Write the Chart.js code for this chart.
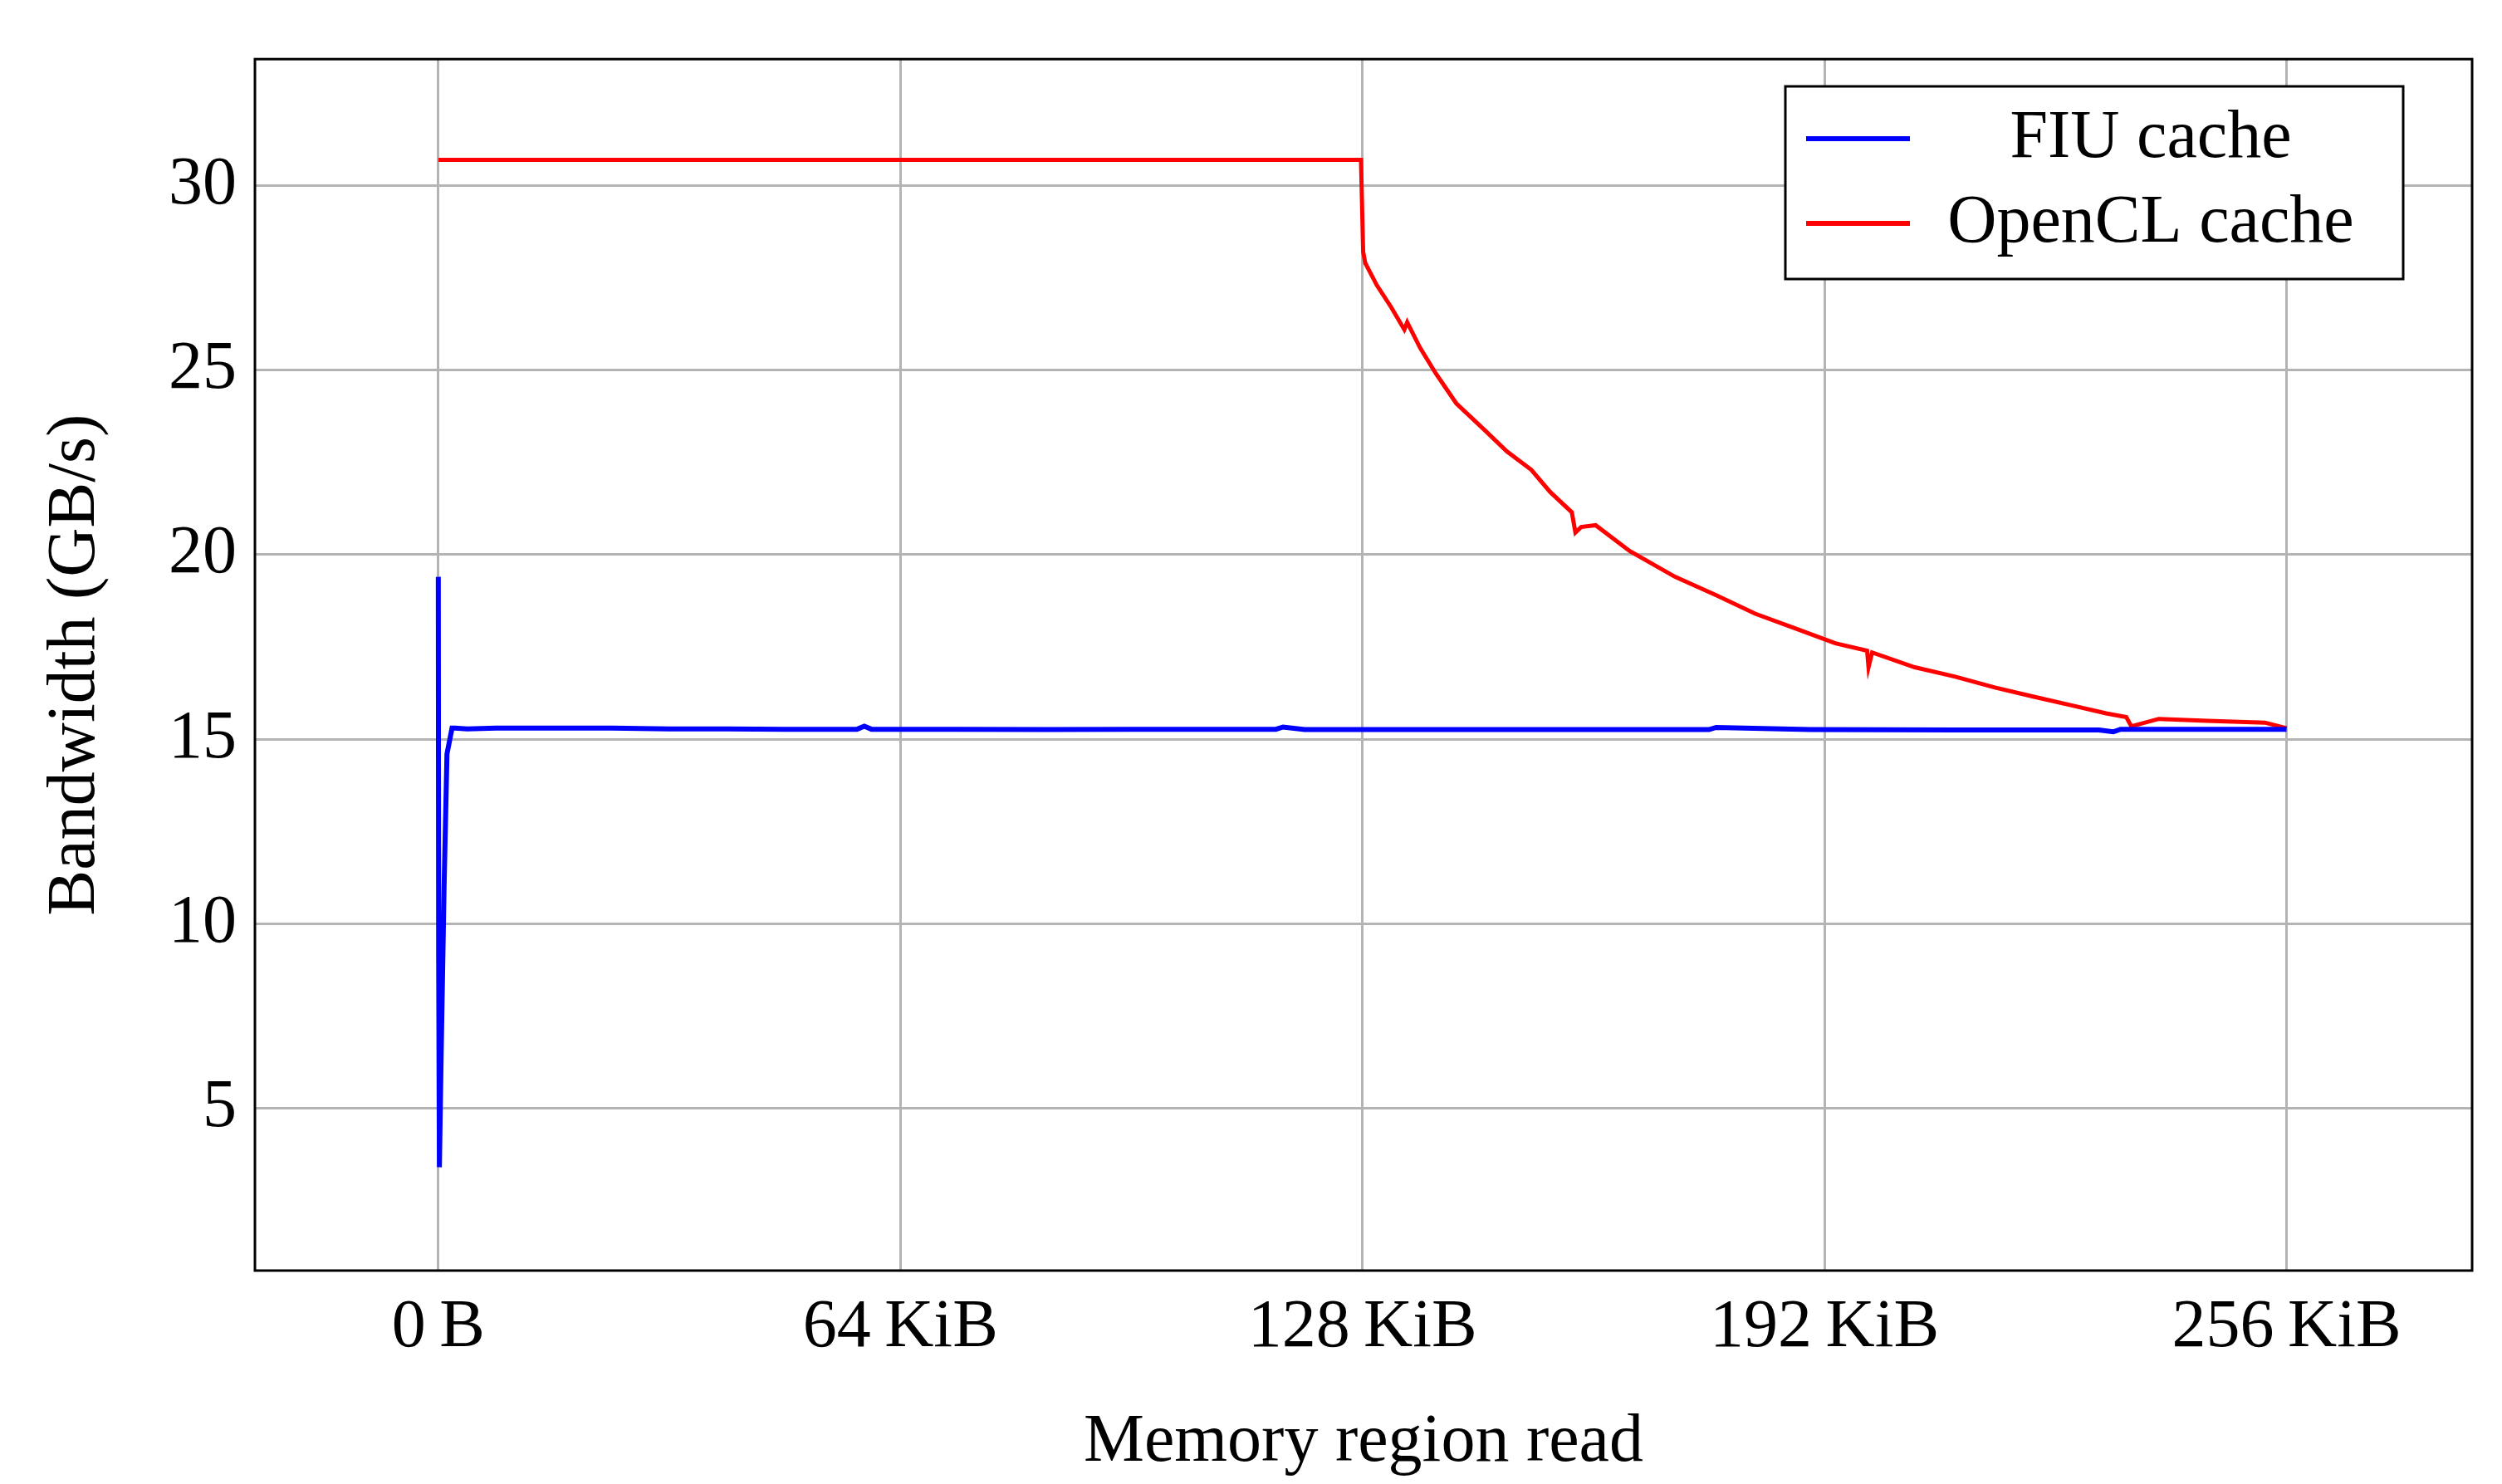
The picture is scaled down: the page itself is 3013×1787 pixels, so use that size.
<!DOCTYPE html>
<html><head><meta charset="utf-8">
<script src="https://cdn.jsdelivr.net/npm/chart.js@4"></script>
<style>html,body{margin:0;padding:0;background:#fff}</style>
</head><body>
<canvas id="c" width="3013" height="1787"></canvas>
<script>
const seriesNames = ["FIU cache", "OpenCL cache"];
const xTickValues = [0, 64, 128, 192, 256];
const xTickLabels = ["0\u2009B", "64\u2009KiB", "128\u2009KiB", "192\u2009KiB", "256\u2009KiB"];
const yTickValues = [5, 10, 15, 20, 25, 30];
const fiuX = [0, 0.05, 0.15, 0.4, 0.8, 1.2, 1.6, 1.9, 2.3, 4, 8, 16, 24, 32, 40, 48, 58, 59, 60, 72, 84, 96, 108, 116, 117, 120, 140, 160, 176, 177, 190, 210, 230, 232, 233, 236, 245, 256];
const fiuY = [19.4, 9.0, 3.4, 6.5, 11.0, 14.6, 15.0, 15.3, 15.3, 15.28, 15.3, 15.3, 15.3, 15.28, 15.28, 15.27, 15.27, 15.35, 15.27, 15.27, 15.26, 15.27, 15.27, 15.27, 15.33, 15.26, 15.26, 15.26, 15.26, 15.32, 15.26, 15.25, 15.25, 15.2, 15.27, 15.27, 15.27, 15.27];
const oclX = [0, 32, 64, 96, 127.8, 128.1, 128.4, 130, 132, 133.8, 134.2, 136, 138.2, 141, 144.8, 148, 151.4, 154, 157, 157.5, 158.3, 160.3, 165, 171.3, 177, 182.4, 188, 193.5, 197.9, 198.1, 198.6, 204.5, 210, 215.6, 221, 226.6, 231, 233.8, 234.5, 238.3, 245, 253, 256];
const oclY = [30.7, 30.7, 30.7, 30.7, 30.7, 28.2, 27.9, 27.3, 26.7, 26.1, 26.3, 25.6, 24.9, 24.1, 23.4, 22.8, 22.3, 21.7, 21.15, 20.6, 20.75, 20.8, 20.1, 19.4, 18.9, 18.4, 18.0, 17.6, 17.4, 16.95, 17.35, 16.95, 16.7, 16.4, 16.15, 15.9, 15.7, 15.6, 15.35, 15.55, 15.5, 15.45, 15.3];

const FONT = "'Liberation Serif', 'DejaVu Serif', serif";
const toPts = (xs, ys) => xs.map((x, i) => ({x: x, y: ys[i]}));

const frame = {
  id: 'frame',
  afterDatasetsDraw(chart) {
    const ctx = chart.ctx, a = chart.chartArea;
    ctx.save();
    ctx.strokeStyle = '#000'; ctx.lineWidth = 3;
    ctx.strokeRect(a.left, a.top, a.right - a.left, a.bottom - a.top);
    const bx = 2150, by = 104, bw = 744, bh = 232;
    ctx.fillStyle = '#fff'; ctx.fillRect(bx, by, bw, bh);
    ctx.strokeRect(bx, by, bw, bh);
    ctx.font = '82px ' + FONT; ctx.textBaseline = 'middle';
    chart.data.datasets.forEach((ds, i) => {
      const yy = by + 63 + i * 102;
      ctx.strokeStyle = ds.borderColor; ctx.lineWidth = 6;
      ctx.beginPath(); ctx.moveTo(bx + 25, yy); ctx.lineTo(bx + 150, yy); ctx.stroke();
      ctx.fillStyle = '#000';
      ctx.textAlign = 'center';
      ctx.fillText(ds.label, bx + 440, yy);
    });
    ctx.restore();
  }
};

new Chart(document.getElementById('c'), {
  type: 'line',
  data: {
    datasets: [
      {label: seriesNames[0], data: toPts(fiuX, fiuY), borderColor: '#0000ff', borderWidth: 6, pointRadius: 0, tension: 0},
      {label: seriesNames[1], data: toPts(oclX, oclY), borderColor: '#ff0000', borderWidth: 5, pointRadius: 0, tension: 0}
    ]
  },
  options: {
    responsive: false, devicePixelRatio: 1, animation: false,
    layout: {padding: {top: 46, right: 36, left: 42, bottom: 0}},
    plugins: {legend: {display: false}, tooltip: {enabled: false}},
    scales: {
      x: {
        type: 'linear', min: -25.4, max: 281.7,
        afterBuildTicks: s => { s.ticks = xTickValues.map(v => ({value: v})); },
        afterFit: s => { s.height = 257; },
        ticks: {callback: (v) => xTickLabels[xTickValues.indexOf(v)], font: {family: FONT, size: 82}, color: '#000', padding: 20, maxRotation: 0},
        grid: {color: '#b4b4b4', lineWidth: 3, drawTicks: false},
        border: {display: false},
        title: {display: true, text: 'Memory region read', font: {family: FONT, size: 82}, color: '#000', padding: {top: 0, bottom: 0}}
      },
      y: {
        type: 'linear', min: 0.6, max: 33.43,
        afterBuildTicks: s => { s.ticks = yTickValues.map(v => ({value: v})); },
        afterFit: s => { s.width = 265; },
        ticks: {font: {family: FONT, size: 82}, color: '#000', padding: 22},
        grid: {color: '#b4b4b4', lineWidth: 3, drawTicks: false},
        border: {display: false},
        title: {display: true, text: 'Bandwidth (GB/s)', font: {family: FONT, size: 82}, color: '#000', padding: {top: 0, bottom: 10}}
      }
    }
  },
  plugins: [frame]
});
</script>
</body></html>
